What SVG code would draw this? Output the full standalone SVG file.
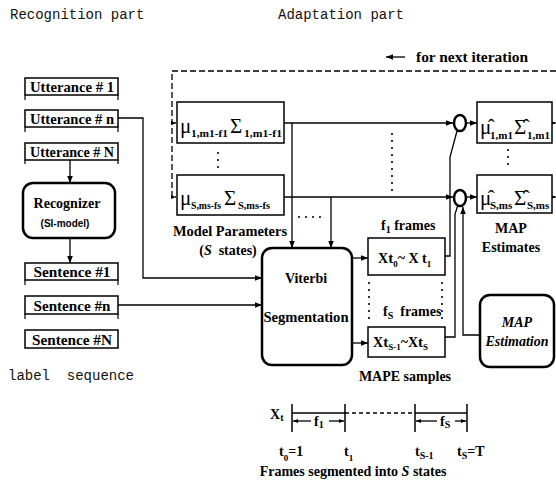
<svg xmlns="http://www.w3.org/2000/svg" width="556" height="483" viewBox="0 0 556 483">
<defs>
<marker id="ah" viewBox="0 0 10 10" refX="10" refY="5" markerWidth="7" markerHeight="7" markerUnits="userSpaceOnUse" orient="auto"><path d="M0,1 L10,5 L0,9 z" fill="#000"/></marker>
<marker id="ahs" viewBox="0 0 10 10" refX="10" refY="5" markerWidth="5" markerHeight="5" markerUnits="userSpaceOnUse" orient="auto"><path d="M0,1 L10,5 L0,9 z" fill="#000"/></marker>
</defs>
<style>
.mono{font-family:"Liberation Mono",monospace;font-size:14px;fill:#111;white-space:pre}
.lb{font-family:"Liberation Serif",serif;font-weight:bold;font-size:14px;fill:#000}
.it{font-style:italic}
.sa{font-family:"Liberation Sans",sans-serif;font-weight:bold;font-size:10px;fill:#000}
.gr{font-family:"Liberation Serif",serif;font-size:21px;fill:#000}
.sub{font-family:"Liberation Serif",serif;font-weight:bold;font-size:11px;fill:#000}
.box{fill:#fff;stroke:#000;stroke-width:1.5}
.rbox{fill:#fff;stroke:#000;stroke-width:2.5}
.ln{fill:none;stroke:#000;stroke-width:1.3}
.dash{fill:none;stroke:#000;stroke-width:1.3;stroke-dasharray:6,3}
.dot{fill:none;stroke:#000;stroke-width:1.6;stroke-dasharray:2,5}
.tk{fill:none;stroke:#000;stroke-width:1.2}
</style>
<rect width="556" height="483" fill="#fff"/>

<text class="mono" x="10" y="19">Recognition part</text>
<text class="mono" x="278" y="19">Adaptation part</text>
<text class="mono" x="8" y="380" xml:space="preserve">label  sequence</text>

<g id="connectors">
  <path class="dash" d="M556,71 H172 V197 H176" marker-end="url(#ahs)"/>
  <path class="dash" d="M172,123 H176" marker-end="url(#ahs)"/>
  <path class="ln" d="M405,57 H386" marker-end="url(#ah)"/>
  <path class="ln" d="M70,160 V183" marker-end="url(#ah)"/>
  <path class="ln" d="M70,238 V263" marker-end="url(#ah)"/>
  <path class="ln" d="M118,118 H143 V278 H262" marker-end="url(#ah)"/>
  <path class="ln" d="M118,305 H262" marker-end="url(#ah)"/>
  <path class="ln" d="M284,123 H453" marker-end="url(#ah)"/>
  <path class="ln" d="M284,197 H453" marker-end="url(#ah)"/>
  <path class="ln" d="M292,123 V248" marker-end="url(#ah)"/>
  <path class="ln" d="M331,197 V248" marker-end="url(#ah)"/>
  <path class="dot" d="M298,217 H326"/>
  <path class="dot" d="M392,133 V195"/>
  <path class="dot" d="M218,152 V171"/>
  <path class="dot" d="M508,149 V170"/>
  <path class="ln" d="M466,123 H477" marker-end="url(#ah)"/>
  <path class="ln" d="M466,197 H477" marker-end="url(#ah)"/>
  <path class="ln" d="M552,123 H556" marker-end="url(#ahs)"/>
  <path class="ln" d="M552,197 H556" marker-end="url(#ahs)"/>
  <path class="ln" d="M352,258 H368" marker-end="url(#ah)"/>
  <path class="ln" d="M352,343 H368" marker-end="url(#ah)"/>
  <path class="ln" d="M445,256 H450 V157 L457,131"/>
  <path class="ln" d="M445,337 H455 V214 L458,205"/>
  <path class="ln" d="M480,335 H463 V207" marker-end="url(#ah)"/>
  <path class="dot" d="M369,282 V322"/>
  <path class="dot" d="M442,282 V322"/>
</g>

<g id="utt1">
  <rect class="box" x="25" y="78" width="93" height="17"/>
  <path class="tk" d="M25,95 v5 M118,95 v5"/>
  <text class="lb" x="72" y="92" font-size="15" text-anchor="middle" textLength="84" lengthAdjust="spacingAndGlyphs">Utterance # 1</text>
</g>
<g id="uttn">
  <rect class="box" x="25" y="110" width="93" height="17"/>
  <path class="tk" d="M25,127 v5 M118,127 v5"/>
  <text class="lb" x="72" y="124" font-size="15" text-anchor="middle" textLength="84" lengthAdjust="spacingAndGlyphs">Utterance # n</text>
</g>
<g id="uttN">
  <rect class="box" x="25" y="143" width="93" height="17"/>
  <path class="tk" d="M25,160 v4 M118,160 v4"/>
  <text class="lb" x="72" y="157" font-size="15" text-anchor="middle" textLength="84" lengthAdjust="spacingAndGlyphs">Utterance # N</text>
</g>

<g id="recognizer">
  <rect class="rbox" x="23" y="183" width="92" height="55" rx="10"/>
  <text class="lb" x="67" y="208" font-size="15" text-anchor="middle">Recognizer</text>
  <text class="sa" x="65" y="227" text-anchor="middle">(SI-model)</text>
</g>

<g id="sent1">
  <rect class="box" x="25" y="263" width="93" height="17"/>
  <path class="tk" d="M25,280 v5 M118,280 v5"/>
  <text class="lb" x="72" y="277" font-size="15" text-anchor="middle" textLength="77" lengthAdjust="spacingAndGlyphs">Sentence  #1</text>
</g>
<g id="sentn">
  <rect class="box" x="25" y="296" width="93" height="18"/>
  <path class="tk" d="M25,314 v5 M118,314 v5"/>
  <text class="lb" x="72" y="311" font-size="15" text-anchor="middle" textLength="77" lengthAdjust="spacingAndGlyphs">Sentence  #n</text>
</g>
<g id="sentN">
  <rect class="box" x="25" y="330" width="93" height="18"/>
  <text class="lb" x="72" y="345" font-size="15" text-anchor="middle" textLength="80" lengthAdjust="spacingAndGlyphs">Sentence  #N</text>
</g>

<g id="param1">
  <rect class="box" x="177" y="102" width="107" height="41"/>
  <text class="gr" x="180" y="133">μ</text>
  <text class="sub" x="191" y="137" textLength="37" lengthAdjust="spacingAndGlyphs">1,m1-f1</text>
  <text class="gr" x="230" y="133">Σ</text>
  <text class="sub" x="244" y="137" textLength="38" lengthAdjust="spacingAndGlyphs">1,m1-f1</text>
</g>
<g id="paramS">
  <rect class="box" x="177" y="175" width="107" height="40"/>
  <text class="gr" x="180" y="205">μ</text>
  <text class="sub" x="191" y="209" textLength="30" lengthAdjust="spacingAndGlyphs">S,ms-fs</text>
  <text class="gr" x="224" y="205">Σ</text>
  <text class="sub" x="238" y="209" textLength="32" lengthAdjust="spacingAndGlyphs">S,ms-fs</text>
</g>
<g id="paramlabel">
  <text class="lb" x="230" y="236" font-size="15" text-anchor="middle" textLength="114" lengthAdjust="spacingAndGlyphs">Model Parameters</text>
  <text class="lb" x="228" y="255" font-size="15" text-anchor="middle" xml:space="preserve">(<tspan class="it">S</tspan>  states)</text>
</g>

<g id="circle1"><ellipse cx="460" cy="123" rx="6" ry="8" fill="#fff" stroke="#000" stroke-width="2.5"/></g>
<g id="circle2"><ellipse cx="460" cy="198" rx="6" ry="8" fill="#fff" stroke="#000" stroke-width="2.5"/></g>

<g id="map1">
  <rect class="box" x="477" y="102" width="75" height="41"/>
  <text class="gr" x="480" y="134">μ̂</text>
  <text class="sub" x="490" y="139">1,m1</text>
  <text class="gr" x="514" y="134">Σ̂</text>
  <text class="sub" x="527" y="139">1,m1</text>
</g>
<g id="mapS">
  <rect class="box" x="477" y="175" width="75" height="38"/>
  <text class="gr" x="480" y="205">μ̂</text>
  <text class="sub" x="490" y="209">S,ms</text>
  <text class="gr" x="514" y="205">Σ̂</text>
  <text class="sub" x="527" y="209">S,ms</text>
</g>
<g id="maplabel">
  <text class="lb" x="511" y="233" font-size="15" text-anchor="middle">MAP</text>
  <text class="lb" x="511" y="252" font-size="15" text-anchor="middle">Estimates</text>
</g>

<g id="viterbi">
  <rect class="rbox" x="262" y="248" width="90" height="117" rx="10"/>
  <text class="lb" x="306" y="283" font-size="15" text-anchor="middle">Viterbi</text>
  <text class="lb" x="306" y="322" font-size="15" text-anchor="middle" textLength="85" lengthAdjust="spacingAndGlyphs">Segmentation</text>
</g>

<g id="f1label"><text class="lb" x="381" y="230" font-size="15">f<tspan font-size="10" dy="3">1</tspan><tspan dy="-3"> frames</tspan></text></g>
<g id="xbox1">
  <rect class="box" x="368" y="238" width="77" height="37"/>
  <text class="lb" x="378" y="263" font-size="16">X<tspan font-size="15">t</tspan><tspan font-size="9" dy="4">0</tspan><tspan dy="-4">~ X</tspan><tspan> t</tspan><tspan font-size="9" dy="4">1</tspan></text>
</g>
<g id="fSlabel"><text class="lb" x="383" y="316" font-size="15">f<tspan font-size="10" dy="3">S</tspan><tspan dy="-3" xml:space="preserve">  frames</tspan></text></g>
<g id="xboxS">
  <rect class="box" x="368" y="327" width="77" height="30"/>
  <text class="lb" x="373" y="347" font-size="16">X<tspan font-size="15">t</tspan><tspan font-size="9" dy="3">S-1</tspan><tspan dy="-3">~X</tspan><tspan font-size="15">t</tspan><tspan font-size="9" dy="3">S</tspan></text>
</g>
<g id="mapelabel"><text class="lb" x="405" y="381" font-size="15" text-anchor="middle">MAPE samples</text></g>

<g id="mapest">
  <rect class="rbox" x="480" y="295" width="74" height="72" rx="10"/>
  <text class="lb it" x="517" y="327" font-size="15" text-anchor="middle">MAP</text>
  <text class="lb it" x="517" y="346" font-size="15" text-anchor="middle">Estimation</text>
</g>

<g id="timeline">
  <text class="lb" x="270" y="419" font-size="15">X<tspan font-size="10" dy="2">t</tspan></text>
  <path class="ln" d="M292,413 H345"/>
  <path class="dash" d="M345,413 H415" style="stroke-dasharray:4,3"/>
  <path class="ln" d="M415,413 H467"/>
  <path class="ln" style="stroke-width:1.5" d="M292,404 V432 M345,404 V432 M415,404 V432 M467,404 V432"/>
  <path class="ln" d="M311,421 H293" marker-end="url(#ahs)"/>
  <path class="ln" d="M329,421 H344" marker-end="url(#ahs)"/>
  <path class="ln" d="M437,421 H416" marker-end="url(#ahs)"/>
  <path class="ln" d="M455,421 H466" marker-end="url(#ahs)"/>
  <text class="lb" x="314" y="426" font-size="15">f<tspan font-size="10" dy="2">1</tspan></text>
  <text class="lb" x="440" y="426" font-size="15">f<tspan font-size="10" dy="2">S</tspan></text>
  <text class="lb" x="279" y="456" font-size="16">t<tspan font-size="9" dy="5">0</tspan><tspan dy="-5">=1</tspan></text>
  <text class="lb" x="344" y="456" font-size="16">t<tspan font-size="9" dy="5">1</tspan></text>
  <text class="lb" x="415" y="456" font-size="16">t<tspan font-size="10" dy="3">S-1</tspan></text>
  <text class="lb" x="457" y="456" font-size="16">t<tspan font-size="10" dy="3">S</tspan><tspan dy="-3">=T</tspan></text>
  <text class="lb" x="353" y="476" font-size="15" text-anchor="middle">Frames segmented into <tspan class="it">S</tspan> states</text>
</g>

<g id="nextiter"><text class="lb" x="416" y="62" font-size="15" textLength="112" lengthAdjust="spacingAndGlyphs">for  next  iteration</text></g>
</svg>
